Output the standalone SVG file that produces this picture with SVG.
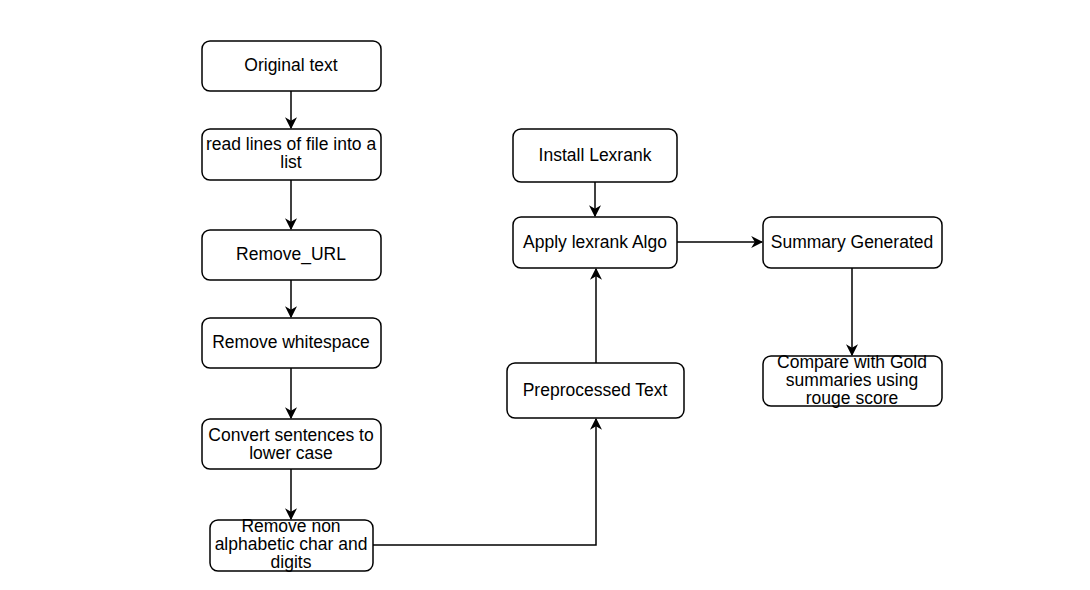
<svg xmlns="http://www.w3.org/2000/svg" width="1090" height="590" viewBox="0 0 1090 590">
<style>
.n rect{fill:#fff;stroke:#000;stroke-width:1.5}
.n text{font-family:"Liberation Sans",Arial,sans-serif;font-size:17.5px;fill:#000;text-anchor:middle}
.c path{fill:none;stroke:#000;stroke-width:1.5}
</style>
<defs>
<marker id="a" viewBox="0 0 10 10" refX="9" refY="5" markerWidth="12" markerHeight="12" markerUnits="userSpaceOnUse" orient="auto">
<path d="M0,0 L10,5 L0,10 L3,5 Z" fill="#000"/>
</marker>
</defs>
<rect width="1090" height="590" fill="#fff"/>
<g class="c">
<path d="M291,91 V128" marker-end="url(#a)"/>
<path d="M291,180 V229" marker-end="url(#a)"/>
<path d="M291,280 V317" marker-end="url(#a)"/>
<path d="M291,368 V418" marker-end="url(#a)"/>
<path d="M291,469 V519" marker-end="url(#a)"/>
<path d="M373,545 H596 V419" marker-end="url(#a)"/>
<path d="M596,363 V269" marker-end="url(#a)"/>
<path d="M595,182 V216" marker-end="url(#a)"/>
<path d="M677,242 H762" marker-end="url(#a)"/>
<path d="M852,268 V355" marker-end="url(#a)"/>
</g>
<g id="n1" class="n"><rect x="202" y="41" width="179" height="50" rx="8"/><text x="291" y="71">Original text</text></g>
<g id="n2" class="n"><rect x="202" y="129" width="179" height="51" rx="8"/><text x="291" y="150">read lines of file into a</text><text x="291" y="168">list</text></g>
<g id="n3" class="n"><rect x="202" y="230" width="179" height="50" rx="8"/><text x="291" y="260">Remove_URL</text></g>
<g id="n4" class="n"><rect x="202" y="318" width="179" height="50" rx="8"/><text x="291" y="348">Remove whitespace</text></g>
<g id="n5" class="n"><rect x="202" y="419" width="179" height="50" rx="8"/><text x="291" y="441">Convert sentences to</text><text x="291" y="459">lower case</text></g>
<g id="n6" class="n"><rect x="210" y="520" width="163" height="51" rx="8"/><text x="291" y="532">Remove non</text><text x="291" y="550">alphabetic char and</text><text x="291" y="568">digits</text></g>
<g id="n7" class="n"><rect x="513" y="129" width="164" height="53" rx="8"/><text x="595" y="161">Install Lexrank</text></g>
<g id="n8" class="n"><rect x="513" y="217" width="164" height="51" rx="8"/><text x="595" y="248">Apply lexrank Algo</text></g>
<g id="n9" class="n"><rect x="763" y="217" width="179" height="51" rx="8"/><text x="852" y="248">Summary Generated</text></g>
<g id="n10" class="n"><rect x="507" y="363" width="177" height="55" rx="8"/><text x="595" y="396">Preprocessed Text</text></g>
<g id="n11" class="n"><rect x="763" y="356" width="179" height="50" rx="8"/><text x="852" y="368">Compare with Gold</text><text x="852" y="386">summaries using</text><text x="852" y="404">rouge score</text></g>
</svg>
